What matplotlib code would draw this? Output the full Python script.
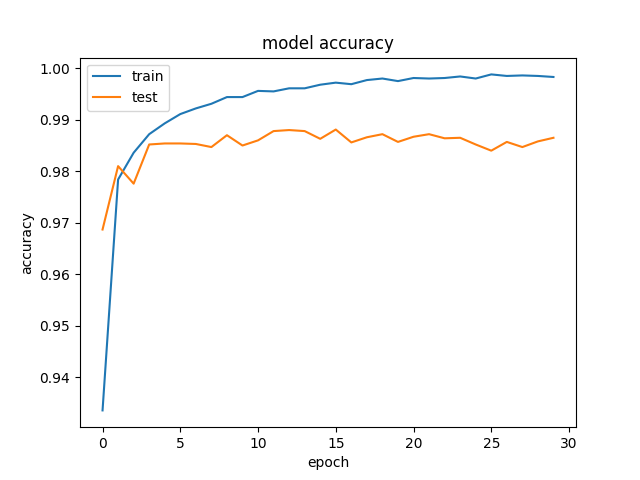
import matplotlib
matplotlib.use("Agg")
import matplotlib.pyplot as plt

# accuracy per epoch
train_acc = [0.9336, 0.9784, 0.9836, 0.9872, 0.9893, 0.9911, 0.9922, 0.9931, 0.9944, 0.9944,
             0.9956, 0.9955, 0.9961, 0.9961, 0.9968, 0.9972, 0.9969, 0.9977, 0.9980, 0.9975,
             0.9981, 0.9980, 0.9981, 0.9984, 0.9980, 0.9988, 0.9985, 0.9986, 0.9985, 0.9983]
test_acc = [0.9687, 0.9810, 0.9776, 0.9852, 0.9854, 0.9854, 0.9853, 0.9847, 0.9870, 0.9850,
            0.9860, 0.9878, 0.9880, 0.9878, 0.9863, 0.9881, 0.9856, 0.9866, 0.9872, 0.9857,
            0.9867, 0.9872, 0.9864, 0.9865, 0.9852, 0.9840, 0.9857, 0.9847, 0.9858, 0.9865]

plt.figure(figsize=(6.4, 4.8), dpi=100)
plt.plot(train_acc)
plt.plot(test_acc)
plt.title('model accuracy')
plt.ylabel('accuracy')
plt.xlabel('epoch')
plt.legend(['train', 'test'], loc='upper left')
plt.savefig('out.png')
